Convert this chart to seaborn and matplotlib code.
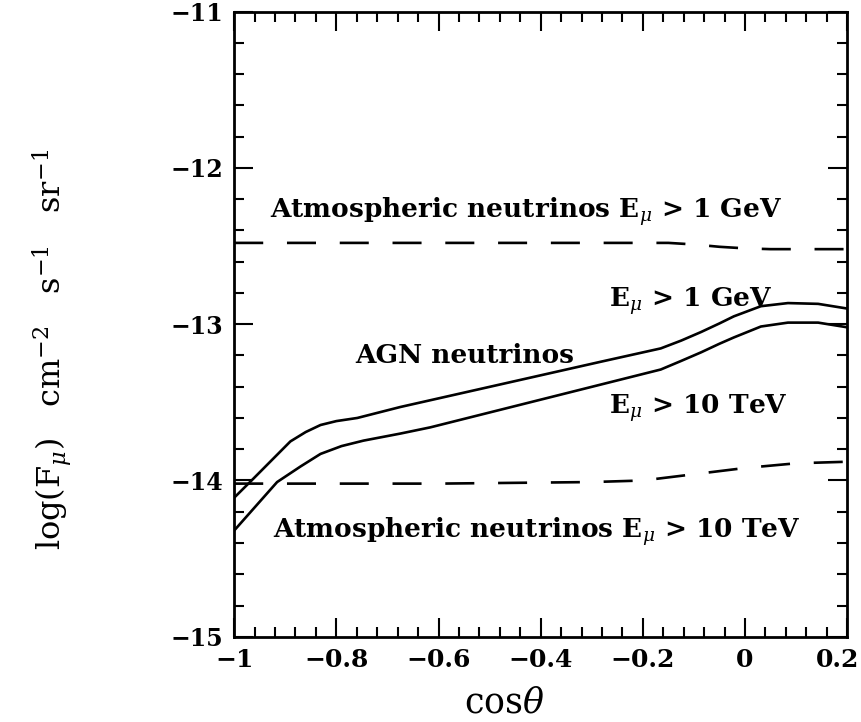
import matplotlib
matplotlib.use('Agg')
import matplotlib.pyplot as plt
import matplotlib.transforms as mtransforms
from matplotlib.ticker import MultipleLocator
import pandas as pd
import seaborn as sns

# curves (cos theta, log flux)
agn_1gev_x = [-1.0, -0.963, -0.89, -0.86, -0.831, -0.80, -0.759, -0.675, -0.282, -0.165, -0.125, -0.086, -0.05, -0.022, 0.031, 0.084, 0.143, 0.2]
agn_1gev_y = [-14.11, -13.99, -13.75, -13.69, -13.645, -13.62, -13.6, -13.53, -13.24, -13.155, -13.105, -13.05, -12.995, -12.95, -12.885, -12.865, -12.87, -12.9]

agn_10tev_x = [-1.0, -0.916, -0.87, -0.831, -0.79, -0.747, -0.675, -0.616, -0.165, -0.125, -0.086, -0.05, -0.022, 0.031, 0.084, 0.143, 0.2]
agn_10tev_y = [-14.32, -14.01, -13.91, -13.83, -13.78, -13.745, -13.7, -13.66, -13.29, -13.235, -13.18, -13.125, -13.085, -13.015, -12.99, -12.99, -13.02]

atm_1gev_x = [-1.0, -0.6, -0.15, -0.1, -0.05, 0.0, 0.05, 0.2]
atm_1gev_y = [-12.48, -12.48, -12.48, -12.49, -12.505, -12.515, -12.52, -12.52]

atm_10tev_x = [-1.0, -0.6, -0.3, -0.2, -0.1, 0.0, 0.1, 0.2]
atm_10tev_y = [-14.02, -14.02, -14.01, -14.0, -13.96, -13.92, -13.89, -13.88]

xtick_vals = [-1, -0.8, -0.6, -0.4, -0.2, 0, 0.2]
xtick_text = ['\u22121', '\u22120.8', '\u22120.6', '\u22120.4', '\u22120.2', '0', '0.2']
ytick_vals = [-15, -14, -13, -12, -11]
ytick_text = ['\u221215', '\u221214', '\u221213', '\u221212', '\u221211']

sns.set_style('ticks')
plt.rcParams['font.family'] = ['DejaVu Serif']
plt.rcParams['mathtext.fontset'] = 'dejavuserif'
plt.rcParams['text.color'] = 'black'
plt.rcParams['axes.labelcolor'] = 'black'
plt.rcParams['xtick.color'] = 'black'
plt.rcParams['ytick.color'] = 'black'
plt.rcParams['axes.edgecolor'] = 'black'

fig = plt.figure(figsize=(8.61, 7.22), dpi=100)
ax = fig.add_axes([0.272, 0.118, 0.712, 0.866])

agn_1 = pd.DataFrame({'x': agn_1gev_x, 'y': agn_1gev_y})
agn_2 = pd.DataFrame({'x': agn_10tev_x, 'y': agn_10tev_y})
atm_1 = pd.DataFrame({'x': atm_1gev_x, 'y': atm_1gev_y})
atm_2 = pd.DataFrame({'x': atm_10tev_x, 'y': atm_10tev_y})

sns.lineplot(data=agn_1, x='x', y='y', ax=ax, color='black', lw=1.9, sort=False)
sns.lineplot(data=agn_2, x='x', y='y', ax=ax, color='black', lw=1.9, sort=False)
sns.lineplot(data=atm_1, x='x', y='y', ax=ax, color='black', lw=1.9, sort=False,
             dashes=False, linestyle=(0, (11, 9)))
sns.lineplot(data=atm_2, x='x', y='y', ax=ax, color='black', lw=1.9, sort=False,
             dashes=False, linestyle=(0, (11, 9)))

ax.set_xlim(-1, 0.2)
ax.set_ylim(-15, -11)
ax.xaxis.set_minor_locator(MultipleLocator(0.04))
ax.yaxis.set_minor_locator(MultipleLocator(0.2))
ax.tick_params(which='both', direction='in', top=True, right=True, width=1.5)
ax.tick_params(which='major', length=14, pad=8)
ax.tick_params(which='minor', length=7)
ax.set_xticks(xtick_vals)
ax.set_xticklabels(xtick_text, fontsize=18, fontweight='bold')
ax.set_yticks(ytick_vals)
ax.set_yticklabels(ytick_text, fontsize=17, fontweight='bold')
for s in ax.spines.values():
    s.set_linewidth(2)

# last x label sits a bit inside the figure edge
last = ax.get_xticklabels()[-1]
last.set_transform(last.get_transform() + mtransforms.ScaledTranslation(-0.1, 0, fig.dpi_scale_trans))

ax.set_xlabel(r'cos$\theta$', fontsize=25)
ax.xaxis.set_label_coords(0.44, -0.078)
ax.set_ylabel(r'log(F$_\mu$)   cm$^{-2}$   s$^{-1}$   sr$^{-1}$', fontsize=23)
ax.yaxis.set_label_coords(-0.262, 0.46)

fs = 19
ax.text(-0.93, -12.28, r'Atmospheric neutrinos E$_\mu$ > 1 GeV', fontsize=fs, va='center', fontweight='bold')
ax.text(-0.267, -12.85, r'E$_\mu$ > 1 GeV', fontsize=fs, va='center', fontweight='bold')
ax.text(-0.763, -13.2, 'AGN neutrinos', fontsize=fs, va='center', fontweight='bold')
ax.text(-0.267, -13.54, r'E$_\mu$ > 10 TeV', fontsize=fs, va='center', fontweight='bold')
ax.text(-0.925, -14.33, r'Atmospheric neutrinos E$_\mu$ > 10 TeV', fontsize=fs, va='center', fontweight='bold')

plt.savefig('out.png', dpi=100)
